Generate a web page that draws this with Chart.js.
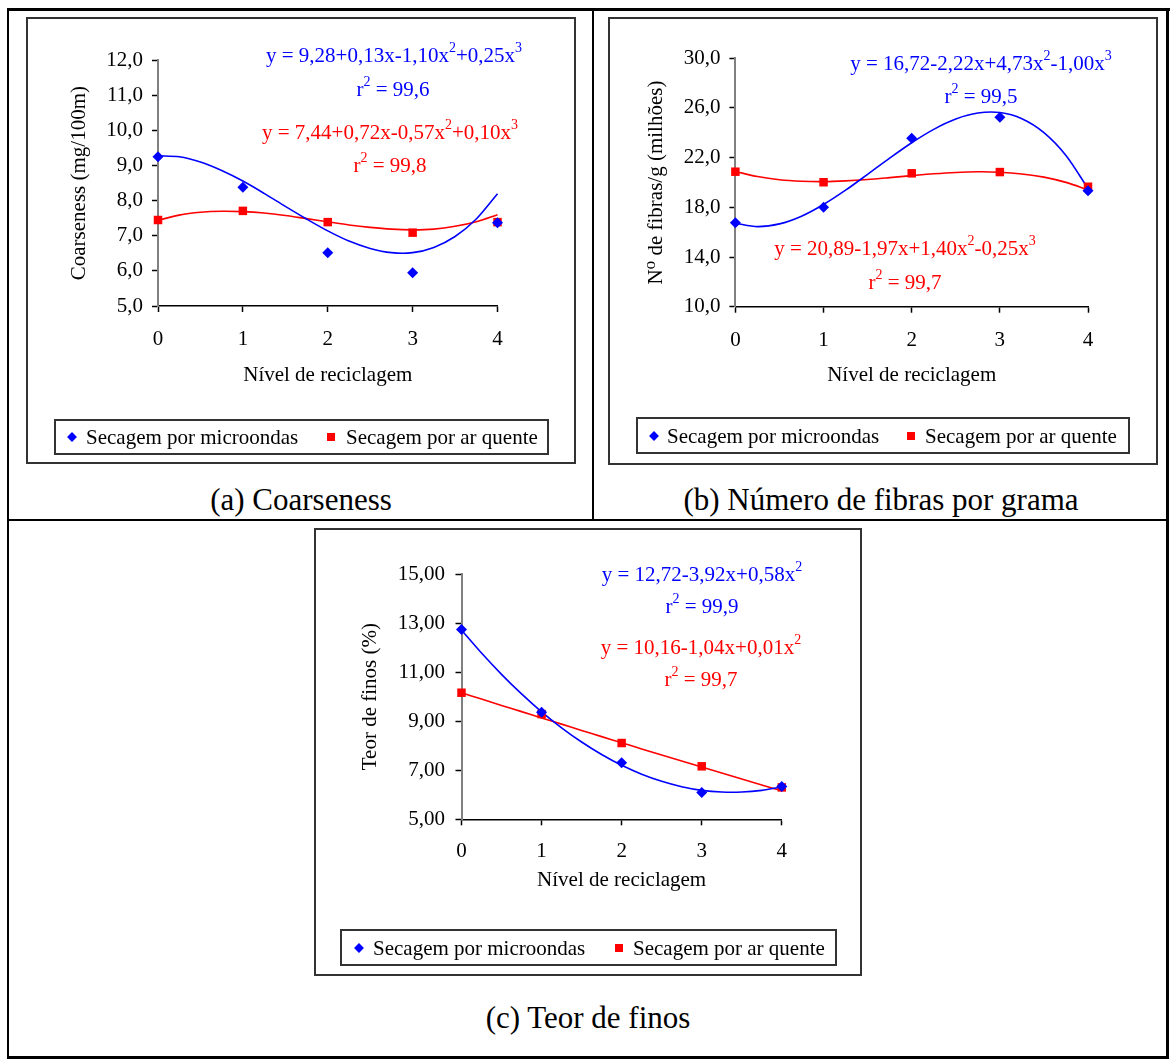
<!DOCTYPE html>
<html>
<head>
<meta charset="utf-8">
<script src="https://cdn.jsdelivr.net/npm/chart.js@4.4.0/dist/chart.umd.min.js"></script>
<style>
body { margin:0; width:1170px; height:1059px; background:#fff; position:relative; overflow:hidden;
       font-family:"Liberation Serif","Times New Roman",serif; color:#000; }
.linha { position:absolute; background:#000; }
.caixa { position:absolute; border:2px solid #333; box-sizing:border-box; }
canvas { position:absolute; }
.eq { position:absolute; font-size:21px; line-height:21px; white-space:nowrap; transform:translateX(-50%); }
.eq sup { font-size:14px; position:relative; top:-10px; vertical-align:baseline; line-height:0; }
.azul { color:#0000ff; }
.verm { color:#ff0000; }
.legenda { position:absolute; border:2px solid #333; box-sizing:border-box; font-size:21px; }
.txt { position:absolute; top:50%; transform:translateY(-50%); white-space:nowrap; line-height:21px; }
.diamante { position:absolute; width:7px; height:7px; background:#0000ff; top:50%; transform:translate(-50%,-50%) rotate(45deg); }
.quadrado { position:absolute; width:8px; height:8px; background:#ff0000; top:50%; transform:translate(-50%,-50%); }
.cap { position:absolute; font-size:31px; line-height:31px; white-space:nowrap; transform:translateX(-50%); }
</style>
</head>
<body>
<!-- moldura da tabela -->
<div class="linha" style="left:7px;top:8px;width:1163px;height:3px"></div>
<div class="linha" style="left:7px;top:8px;width:2px;height:1051px"></div>
<div class="linha" style="left:1166px;top:8px;width:3px;height:1051px"></div>
<div class="linha" style="left:592px;top:8px;width:2px;height:512px"></div>
<div class="linha" style="left:7px;top:519px;width:1162px;height:2px"></div>
<div class="linha" style="left:7px;top:1056px;width:1162px;height:3px"></div>

<!-- (a) -->
<div class="caixa" style="left:26px;top:17px;width:550px;height:447px"></div>
<canvas id="ga" width="546" height="443" style="left:28px;top:19px"></canvas>
<div class="eq azul" style="left:394px;top:45px">y = 9,28+0,13x-1,10x<sup>2</sup>+0,25x<sup>3</sup></div>
<div class="eq azul" style="left:393px;top:79px">r<sup>2</sup> = 99,6</div>
<div class="eq verm" style="left:390px;top:122px">y = 7,44+0,72x-0,57x<sup>2</sup>+0,10x<sup>3</sup></div>
<div class="eq verm" style="left:390px;top:155px">r<sup>2</sup> = 99,8</div>
<div class="legenda" style="left:54px;top:419px;width:495px;height:36px">
  <div class="diamante" style="left:16px"></div><div class="txt" style="left:30px">Secagem por microondas</div>
  <div class="quadrado" style="left:275px"></div><div class="txt" style="left:290px">Secagem por ar quente</div>
</div>
<div class="cap" style="left:301px;top:484px">(a) Coarseness</div>

<!-- (b) -->
<div class="caixa" style="left:608px;top:17px;width:550px;height:448px"></div>
<canvas id="gb" width="546" height="444" style="left:610px;top:19px"></canvas>
<div class="eq azul" style="left:981px;top:53px">y = 16,72-2,22x+4,73x<sup>2</sup>-1,00x<sup>3</sup></div>
<div class="eq azul" style="left:981px;top:86px">r<sup>2</sup> = 99,5</div>
<div class="eq verm" style="left:905px;top:238px">y = 20,89-1,97x+1,40x<sup>2</sup>-0,25x<sup>3</sup></div>
<div class="eq verm" style="left:905px;top:272px">r<sup>2</sup> = 99,7</div>
<div class="legenda" style="left:636px;top:417px;width:494px;height:37px">
  <div class="diamante" style="left:16px"></div><div class="txt" style="left:29px">Secagem por microondas</div>
  <div class="quadrado" style="left:273px"></div><div class="txt" style="left:287px">Secagem por ar quente</div>
</div>
<div class="cap" style="left:881px;top:484px">(b) Número de fibras por grama</div>

<!-- (c) -->
<div class="caixa" style="left:314px;top:528px;width:548px;height:448px"></div>
<canvas id="gc" width="544" height="444" style="left:316px;top:530px"></canvas>
<div class="eq azul" style="left:702px;top:564px">y = 12,72-3,92x+0,58x<sup>2</sup></div>
<div class="eq azul" style="left:702px;top:596px">r<sup>2</sup> = 99,9</div>
<div class="eq verm" style="left:701px;top:637px">y = 10,16-1,04x+0,01x<sup>2</sup></div>
<div class="eq verm" style="left:701px;top:669px">r<sup>2</sup> = 99,7</div>
<div class="legenda" style="left:340px;top:929px;width:497px;height:37px">
  <div class="diamante" style="left:17px"></div><div class="txt" style="left:31px">Secagem por microondas</div>
  <div class="quadrado" style="left:277px"></div><div class="txt" style="left:291px">Secagem por ar quente</div>
</div>
<div class="cap" style="left:588px;top:1002px">(c) Teor de finos</div>

<script>
// níveis de reciclagem
const nivel = [0, 1, 2, 3, 4];
const rotulosX = ["0", "1", "2", "3", "4"];

// valores medidos
const coarseMicro = [9.25, 8.38, 6.52, 5.95, 7.37];
const coarseAr = [7.45, 7.71, 7.39, 7.09, 7.39];
const fibrasMicro = [16.76, 18.0, 23.56, 25.25, 19.34];
const fibrasAr = [20.87, 20.02, 20.74, 20.84, 19.66];
const finosMicro = [12.74, 9.36, 7.31, 6.09, 6.34];
const finosAr = [10.16, 9.29, 8.11, 7.16, 6.30];

// curvas de tendência
const curvaX = [0, 0.25, 0.5, 0.75, 1, 1.25, 1.5, 1.75, 2, 2.25, 2.5, 2.75, 3, 3.25, 3.5, 3.75, 4];
const coarseMicroCurva = [9.28, 9.25, 9.10, 8.86, 8.56, 8.21, 7.84, 7.48, 7.14, 6.85, 6.64, 6.52, 6.52, 6.67, 6.98, 7.48, 8.20];
const coarseArCurva = [7.44, 7.59, 7.67, 7.70, 7.69, 7.65, 7.58, 7.49, 7.40, 7.31, 7.24, 7.19, 7.17, 7.19, 7.27, 7.40, 7.60];
const fibrasMicroCurva = [16.72, 16.45, 16.67, 17.29, 18.23, 19.38, 20.66, 21.96, 23.20, 24.28, 25.11, 25.59, 25.63, 25.14, 24.02, 22.18, 19.52];
const fibrasArCurva = [20.89, 20.48, 20.22, 20.10, 20.07, 20.13, 20.24, 20.39, 20.55, 20.70, 20.81, 20.86, 20.83, 20.69, 20.43, 20.01, 19.41];
const finosMicroCurva = [12.72, 11.78, 10.91, 10.11, 9.38, 8.73, 8.15, 7.64, 7.20, 6.84, 6.55, 6.33, 6.18, 6.11, 6.11, 6.18, 6.32];
const finosArCurva = [10.16, 9.90, 9.64, 9.39, 9.13, 8.88, 8.62, 8.37, 8.12, 7.87, 7.62, 7.38, 7.13, 6.89, 6.64, 6.40, 6.16];

// eixos y
const ticksCoarse = [5, 6, 7, 8, 9, 10, 11, 12];
const rotulosCoarse = ["5,0", "6,0", "7,0", "8,0", "9,0", "10,0", "11,0", "12,0"];
const ticksFibras = [10, 14, 18, 22, 26, 30];
const rotulosFibras = ["10,0", "14,0", "18,0", "22,0", "26,0", "30,0"];
const ticksFinos = [5, 7, 9, 11, 13, 15];
const rotulosFinos = ["5,00", "7,00", "9,00", "11,00", "13,00", "15,00"];

Chart.defaults.font.family = "'Liberation Serif', 'Times New Roman', 'DejaVu Serif', serif";
Chart.defaults.font.size = 21;
Chart.defaults.color = "#000";

function pontos(xs, ys) {
    return xs.map(function (x, i) { return { x: x, y: ys[i] }; });
}

function montar(id, o) {
    new Chart(document.getElementById(id), {
        type: "scatter",
        data: {
            datasets: [
                { label: "Secagem por microondas", data: pontos(nivel, o.micro), pointStyle: "rectRot",
                  pointRadius: 5.5, backgroundColor: "#0000ff", borderColor: "#0000ff", borderWidth: 0, order: 0, clip: false },
                { label: "Secagem por ar quente", data: pontos(nivel, o.ar), pointStyle: "rect",
                  pointRadius: 6, backgroundColor: "#ff0000", borderColor: "#ff0000", borderWidth: 0, order: 0, clip: false },
                { data: pontos(curvaX, o.microCurva), showLine: true, pointRadius: 0, borderColor: "#0000ff",
                  borderWidth: 1.6, tension: 0.3, order: 1, clip: false },
                { data: pontos(curvaX, o.arCurva), showLine: true, pointRadius: 0, borderColor: "#ff0000",
                  borderWidth: 1.6, tension: 0.3, order: 1, clip: false },
            ],
        },
        options: {
            responsive: false,
            animation: false,
            devicePixelRatio: 1,
            layout: { padding: { left: 0, right: o.padR, top: o.padT, bottom: o.padB } },
            plugins: { legend: { display: false }, tooltip: { enabled: false } },
            scales: {
                x: {
                    type: "linear", min: 0, max: 4,
                    afterBuildTicks: function (s) { s.ticks = nivel.map(function (v) { return { value: v }; }); },
                    afterFit: function (s) { s.height = o.xH; },
                    ticks: { padding: o.xPad, callback: function (v, i) { return rotulosX[i]; } },
                    grid: { drawOnChartArea: false, drawTicks: true, tickLength: 6, tickColor: "#000", tickWidth: 1.5 },
                    border: { color: "#000", width: 1.5 },
                    title: { display: true, text: "Nível de reciclagem", padding: 0 },
                },
                y: {
                    type: "linear", min: o.yTicks[0], max: o.yTicks[o.yTicks.length - 1],
                    afterBuildTicks: function (s) { s.ticks = o.yTicks.map(function (v) { return { value: v }; }); },
                    afterFit: function (s) { s.width = o.yW; },
                    ticks: { padding: o.yPad, callback: function (v, i) { return o.yLabels[i]; } },
                    grid: { drawOnChartArea: false, drawTicks: true, tickLength: 6, tickColor: "#000", tickWidth: 1.5 },
                    border: { color: "#808080", width: 2 },
                    title: { display: true, text: o.yTitle, padding: { top: o.tPad, bottom: 0 } },
                },
            },
        },
    });
}

montar("ga", {
    micro: coarseMicro, ar: coarseAr, microCurva: coarseMicroCurva, arCurva: coarseArCurva,
    yTicks: ticksCoarse, yLabels: rotulosCoarse, yTitle: "Coarseness (mg/100m)",
    yW: 130, padR: 76.5, padT: 41.3, xH: 81.6, padB: 74.4, yPad: 9, tPad: 38.4, xPad: 15,
});
montar("gb", {
    micro: fibrasMicro, ar: fibrasAr, microCurva: fibrasMicroCurva, arCurva: fibrasArCurva,
    yTicks: ticksFibras, yLabels: rotulosFibras, yTitle: "N\u2070 de fibras/g (milhões)",
    yW: 125.4, padR: 68, padT: 39.3, xH: 81, padB: 75.3, yPad: 9, tPad: 34, xPad: 15,
});
montar("gc", {
    micro: finosMicro, ar: finosAr, microCurva: finosMicroCurva, arCurva: finosArCurva,
    yTicks: ticksFinos, yLabels: rotulosFinos, yTitle: "Teor de finos (%)",
    yW: 145.5, padR: 78.2, padT: 44, xH: 73.6, padB: 81.1, yPad: 10.5, tPad: 41.4, xPad: 14,
});
</script>
</body>
</html>
